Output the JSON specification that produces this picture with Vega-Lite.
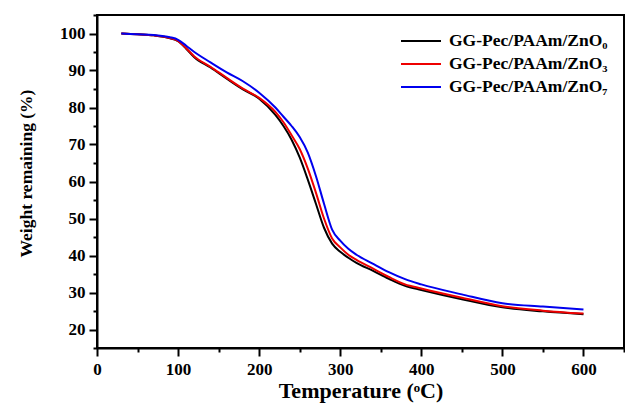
{
  "$schema": "https://vega.github.io/schema/vega-lite/v6.json",
  "width": 527,
  "height": 333,
  "autosize": "none",
  "padding": {"left": 97, "top": 15, "right": 1, "bottom": 59},
  "background": "white",
  "config": {
    "view": {"stroke": "black", "strokeWidth": 2},
    "font": "Liberation Serif"
  },
  "data": {
    "values": [
      {"T": 30, "W": 100, "s": "GG-Pec/PAAm/ZnO₀"},
      {"T": 50, "W": 99.8, "s": "GG-Pec/PAAm/ZnO₀"},
      {"T": 70, "W": 99.5, "s": "GG-Pec/PAAm/ZnO₀"},
      {"T": 90, "W": 98.7, "s": "GG-Pec/PAAm/ZnO₀"},
      {"T": 100, "W": 97.9, "s": "GG-Pec/PAAm/ZnO₀"},
      {"T": 110, "W": 95.9, "s": "GG-Pec/PAAm/ZnO₀"},
      {"T": 120, "W": 93.6, "s": "GG-Pec/PAAm/ZnO₀"},
      {"T": 140, "W": 90.8, "s": "GG-Pec/PAAm/ZnO₀"},
      {"T": 160, "W": 87.8, "s": "GG-Pec/PAAm/ZnO₀"},
      {"T": 180, "W": 84.9, "s": "GG-Pec/PAAm/ZnO₀"},
      {"T": 200, "W": 82.4, "s": "GG-Pec/PAAm/ZnO₀"},
      {"T": 220, "W": 78.0, "s": "GG-Pec/PAAm/ZnO₀"},
      {"T": 230, "W": 75.0, "s": "GG-Pec/PAAm/ZnO₀"},
      {"T": 240, "W": 71.3, "s": "GG-Pec/PAAm/ZnO₀"},
      {"T": 250, "W": 66.5, "s": "GG-Pec/PAAm/ZnO₀"},
      {"T": 260, "W": 60.5, "s": "GG-Pec/PAAm/ZnO₀"},
      {"T": 270, "W": 54.0, "s": "GG-Pec/PAAm/ZnO₀"},
      {"T": 280, "W": 47.5, "s": "GG-Pec/PAAm/ZnO₀"},
      {"T": 290, "W": 43.2, "s": "GG-Pec/PAAm/ZnO₀"},
      {"T": 300, "W": 41.0, "s": "GG-Pec/PAAm/ZnO₀"},
      {"T": 310, "W": 39.4, "s": "GG-Pec/PAAm/ZnO₀"},
      {"T": 320, "W": 38.0, "s": "GG-Pec/PAAm/ZnO₀"},
      {"T": 340, "W": 35.9, "s": "GG-Pec/PAAm/ZnO₀"},
      {"T": 360, "W": 33.7, "s": "GG-Pec/PAAm/ZnO₀"},
      {"T": 380, "W": 31.8, "s": "GG-Pec/PAAm/ZnO₀"},
      {"T": 400, "W": 30.7, "s": "GG-Pec/PAAm/ZnO₀"},
      {"T": 450, "W": 28.2, "s": "GG-Pec/PAAm/ZnO₀"},
      {"T": 500, "W": 26.0, "s": "GG-Pec/PAAm/ZnO₀"},
      {"T": 550, "W": 24.9, "s": "GG-Pec/PAAm/ZnO₀"},
      {"T": 600, "W": 24.1, "s": "GG-Pec/PAAm/ZnO₀"},
      {"T": 30, "W": 100, "s": "GG-Pec/PAAm/ZnO₃"},
      {"T": 50, "W": 99.8, "s": "GG-Pec/PAAm/ZnO₃"},
      {"T": 70, "W": 99.5, "s": "GG-Pec/PAAm/ZnO₃"},
      {"T": 90, "W": 98.8, "s": "GG-Pec/PAAm/ZnO₃"},
      {"T": 100, "W": 98.0, "s": "GG-Pec/PAAm/ZnO₃"},
      {"T": 110, "W": 96.0, "s": "GG-Pec/PAAm/ZnO₃"},
      {"T": 120, "W": 93.8, "s": "GG-Pec/PAAm/ZnO₃"},
      {"T": 140, "W": 91.0, "s": "GG-Pec/PAAm/ZnO₃"},
      {"T": 160, "W": 88.0, "s": "GG-Pec/PAAm/ZnO₃"},
      {"T": 180, "W": 85.1, "s": "GG-Pec/PAAm/ZnO₃"},
      {"T": 200, "W": 82.6, "s": "GG-Pec/PAAm/ZnO₃"},
      {"T": 220, "W": 78.8, "s": "GG-Pec/PAAm/ZnO₃"},
      {"T": 230, "W": 76.0, "s": "GG-Pec/PAAm/ZnO₃"},
      {"T": 240, "W": 72.5, "s": "GG-Pec/PAAm/ZnO₃"},
      {"T": 250, "W": 68.8, "s": "GG-Pec/PAAm/ZnO₃"},
      {"T": 260, "W": 63.5, "s": "GG-Pec/PAAm/ZnO₃"},
      {"T": 270, "W": 57.0, "s": "GG-Pec/PAAm/ZnO₃"},
      {"T": 280, "W": 50.0, "s": "GG-Pec/PAAm/ZnO₃"},
      {"T": 290, "W": 44.6, "s": "GG-Pec/PAAm/ZnO₃"},
      {"T": 300, "W": 42.2, "s": "GG-Pec/PAAm/ZnO₃"},
      {"T": 310, "W": 40.2, "s": "GG-Pec/PAAm/ZnO₃"},
      {"T": 320, "W": 38.8, "s": "GG-Pec/PAAm/ZnO₃"},
      {"T": 340, "W": 36.5, "s": "GG-Pec/PAAm/ZnO₃"},
      {"T": 360, "W": 34.2, "s": "GG-Pec/PAAm/ZnO₃"},
      {"T": 380, "W": 32.2, "s": "GG-Pec/PAAm/ZnO₃"},
      {"T": 400, "W": 31.1, "s": "GG-Pec/PAAm/ZnO₃"},
      {"T": 450, "W": 28.6, "s": "GG-Pec/PAAm/ZnO₃"},
      {"T": 500, "W": 26.3, "s": "GG-Pec/PAAm/ZnO₃"},
      {"T": 550, "W": 25.1, "s": "GG-Pec/PAAm/ZnO₃"},
      {"T": 600, "W": 24.3, "s": "GG-Pec/PAAm/ZnO₃"},
      {"T": 30, "W": 100, "s": "GG-Pec/PAAm/ZnO₇"},
      {"T": 50, "W": 99.8, "s": "GG-Pec/PAAm/ZnO₇"},
      {"T": 70, "W": 99.6, "s": "GG-Pec/PAAm/ZnO₇"},
      {"T": 90, "W": 99.0, "s": "GG-Pec/PAAm/ZnO₇"},
      {"T": 100, "W": 98.3, "s": "GG-Pec/PAAm/ZnO₇"},
      {"T": 110, "W": 96.7, "s": "GG-Pec/PAAm/ZnO₇"},
      {"T": 120, "W": 95.0, "s": "GG-Pec/PAAm/ZnO₇"},
      {"T": 140, "W": 92.2, "s": "GG-Pec/PAAm/ZnO₇"},
      {"T": 160, "W": 89.5, "s": "GG-Pec/PAAm/ZnO₇"},
      {"T": 180, "W": 87.1, "s": "GG-Pec/PAAm/ZnO₇"},
      {"T": 200, "W": 84.0, "s": "GG-Pec/PAAm/ZnO₇"},
      {"T": 220, "W": 80.0, "s": "GG-Pec/PAAm/ZnO₇"},
      {"T": 230, "W": 77.5, "s": "GG-Pec/PAAm/ZnO₇"},
      {"T": 240, "W": 75.0, "s": "GG-Pec/PAAm/ZnO₇"},
      {"T": 250, "W": 72.0, "s": "GG-Pec/PAAm/ZnO₇"},
      {"T": 260, "W": 67.8, "s": "GG-Pec/PAAm/ZnO₇"},
      {"T": 270, "W": 61.5, "s": "GG-Pec/PAAm/ZnO₇"},
      {"T": 280, "W": 54.0, "s": "GG-Pec/PAAm/ZnO₇"},
      {"T": 290, "W": 47.0, "s": "GG-Pec/PAAm/ZnO₇"},
      {"T": 300, "W": 44.0, "s": "GG-Pec/PAAm/ZnO₇"},
      {"T": 310, "W": 41.8, "s": "GG-Pec/PAAm/ZnO₇"},
      {"T": 320, "W": 40.2, "s": "GG-Pec/PAAm/ZnO₇"},
      {"T": 340, "W": 37.8, "s": "GG-Pec/PAAm/ZnO₇"},
      {"T": 360, "W": 35.5, "s": "GG-Pec/PAAm/ZnO₇"},
      {"T": 380, "W": 33.6, "s": "GG-Pec/PAAm/ZnO₇"},
      {"T": 400, "W": 32.2, "s": "GG-Pec/PAAm/ZnO₇"},
      {"T": 450, "W": 29.5, "s": "GG-Pec/PAAm/ZnO₇"},
      {"T": 500, "W": 27.1, "s": "GG-Pec/PAAm/ZnO₇"},
      {"T": 550, "W": 26.2, "s": "GG-Pec/PAAm/ZnO₇"},
      {"T": 600, "W": 25.4, "s": "GG-Pec/PAAm/ZnO₇"}
    ]
  },
  "mark": {"type": "line", "interpolate": "monotone", "strokeWidth": 2},
  "encoding": {
    "x": {
      "field": "T",
      "type": "quantitative",
      "scale": {"domain": [0, 650], "nice": false, "zero": false},
      "axis": {
        "title": "Temperature (ᵒC)",
        "values": [0, 50, 100, 150, 200, 250, 300, 350, 400, 450, 500, 550, 600, 650],
        "labelExpr": "datum.value % 100 === 0 && datum.value <= 600 ? datum.label : ''",
        "grid": false,
        "domainColor": "black",
        "domainWidth": 2,
        "tickColor": "black",
        "tickWidth": 2,
        "tickSize": {"expr": "datum.value % 100 === 0 ? 8 : 4"},
        "labelPadding": 5,
        "labelFont": "Liberation Serif",
        "labelFontWeight": "bold",
        "labelFontSize": 17,
        "labelColor": "black",
        "labelFlush": false,
        "labelOverlap": false,
        "titleFont": "Liberation Serif",
        "titleFontWeight": "bold",
        "titleFontSize": 22,
        "titleColor": "black",
        "titlePadding": 3
      }
    },
    "y": {
      "field": "W",
      "type": "quantitative",
      "scale": {"domain": [15, 105], "nice": false, "zero": false},
      "axis": {
        "title": "Weight remaining (%)",
        "titleY": 158,
        "values": [15, 20, 25, 30, 35, 40, 45, 50, 55, 60, 65, 70, 75, 80, 85, 90, 95, 100, 105],
        "labelExpr": "datum.value % 10 === 0 && datum.value <= 100 ? datum.label : ''",
        "grid": false,
        "domainColor": "black",
        "domainWidth": 2,
        "tickColor": "black",
        "tickWidth": 2,
        "tickSize": {"expr": "datum.value % 10 === 0 ? 8 : 4"},
        "labelPadding": 4,
        "labelFont": "Liberation Serif",
        "labelFontWeight": "bold",
        "labelFontSize": 17,
        "labelColor": "black",
        "labelFlush": false,
        "labelOverlap": false,
        "titleFont": "Liberation Serif",
        "titleFontWeight": "bold",
        "titleFontSize": 17.5,
        "titleColor": "black",
        "titlePadding": 24
      }
    },
    "color": {
      "field": "s",
      "type": "nominal",
      "scale": {
        "domain": ["GG-Pec/PAAm/ZnO₀", "GG-Pec/PAAm/ZnO₃", "GG-Pec/PAAm/ZnO₇"],
        "range": ["#000000", "#ee0000", "#0000ee"]
      },
      "legend": {
        "title": null,
        "orient": "none",
        "legendX": 313,
        "legendY": 15,
        "symbolType": "M-2,0H2",
        "symbolSize": 400,
        "symbolStrokeWidth": 2,
        "labelFont": "Liberation Serif",
        "labelFontWeight": "bold",
        "labelFontSize": 17.5,
        "labelColor": "black",
        "labelOffset": 17,
        "rowPadding": 3,
        "labelLimit": 300
      }
    }
  }
}
